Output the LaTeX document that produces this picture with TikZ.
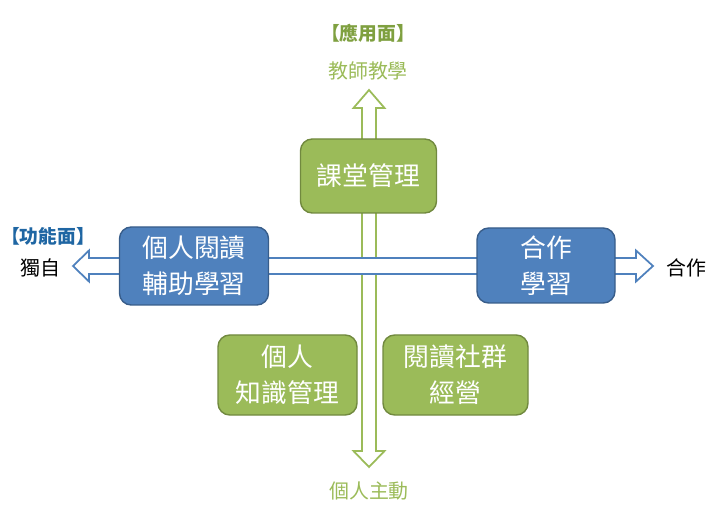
\documentclass[tikz,border=0pt]{standalone}
\usepackage{fontspec}
\newfontfamily\cjk{Noto Sans CJK TC}
\usetikzlibrary{calc}
\definecolor{boxgreen}{HTML}{9BBB59}
\definecolor{edgegreen}{HTML}{71893F}
\definecolor{boxblue}{HTML}{4F81BD}
\definecolor{edgeblue}{HTML}{385D8A}
\definecolor{labelgreen}{HTML}{7FA040}
\definecolor{labelblue}{HTML}{1F66A3}
\tikzset{
  quadbox/.style={rectangle, rounded corners=10pt, line width=1.2pt, text=white, align=center,
    font=\cjk\fontsize{22}{31}\selectfont, inner sep=0pt},
  greenbox/.style={quadbox, fill=boxgreen, draw=edgegreen},
  bluebox/.style={quadbox, fill=boxblue, draw=edgeblue},
  axislabel/.style={font=\cjk\fontsize{17}{19}\selectfont},
  facetlabel/.style={font=\cjk\bfseries\fontsize{16}{18}\selectfont, inner sep=0pt}
}

\begin{document}
\begin{tikzpicture}[x=0.03cm, y=-0.03cm]
		%%%%% START %%%%%
		\useasboundingbox (0, 0) rectangle (721, 511);
		
		% vertical axis
		\draw[line width=1.5pt, color=boxgreen, fill=white] (369, 90) -- (384.5, 108) -- (376, 108) -- (376, 451) -- (384.5, 451)
			-- (369, 467) -- (353.5, 451) -- (362, 451) -- (362, 108) -- (353.5, 108) -- cycle;
		
		% horizontal axis
		\draw[line width=1.5pt, color=boxblue, fill=white] (73, 266) -- (89, 250.5) -- (89, 258) -- (636, 258) -- (636, 250.5)
			-- (653, 266) -- (636, 281.5) -- (636, 274) -- (89, 274) -- (89, 281.5) -- cycle;
		
		\node[greenbox, minimum width=136*0.03cm, minimum height=74*0.03cm] (classroom) at (368.5, 176) {課堂管理};
		\node[bluebox, minimum width=149*0.03cm, minimum height=78*0.03cm] (reading) at (194, 266) {個人閱讀\\輔助學習};
		\node[bluebox, minimum width=138*0.03cm, minimum height=75*0.03cm] (coop) at (546, 265.5) {合作\\學習};
		\node[greenbox, minimum width=139*0.03cm, minimum height=80*0.03cm] (knowledge) at (287.5, 375) {個人\\知識管理};
		\node[greenbox, minimum width=145*0.03cm, minimum height=80*0.03cm] (community) at (455.5, 375) {閱讀社群\\經營};
		
		\node[facetlabel, color=labelgreen] (applied) at (368, 33) {【應用面】};
		\node[axislabel, color=boxgreen] (teach) at (368, 71) {教師教學};
		\node[axislabel, color=boxgreen] (self) at (369, 491) {個人主動};
		\node[facetlabel, color=labelblue] (functional) at (48, 236) {【功能面】};
		\node[axislabel] (alone) at (40, 268) {獨自};
		\node[axislabel] (together) at (686, 268) {合作};
		
		%%%%% END %%%%%
	\end{tikzpicture}
\end{document}
